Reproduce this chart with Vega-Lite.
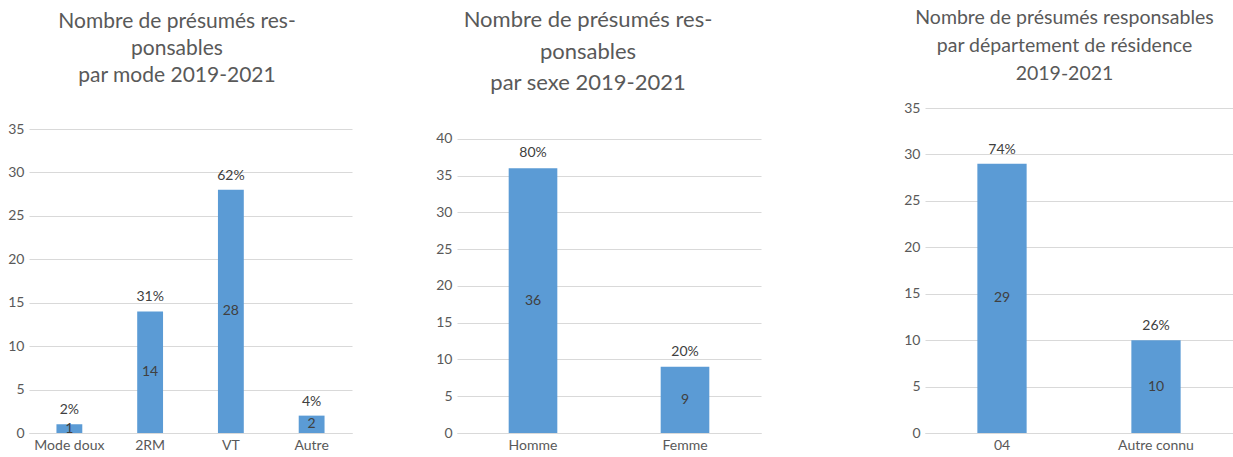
{
  "$schema": "https://vega.github.io/schema/vega-lite/v6.json",
  "padding": {"left": 0, "top": 7, "right": 0, "bottom": 0},
  "align": "each",
  "spacing": 0,
  "bounds": "full",
  "config": {
    "view": {"stroke": null},
    "font": "Lato, sans-serif",
    "axis": {
      "labelFont": "Lato, sans-serif",
      "labelFontSize": 14,
      "labelColor": "#595959",
      "domain": false,
      "ticks": false,
      "title": null,
      "gridColor": "#D9D9D9",
      "gridWidth": 1
    },
    "axisX": {"domain": true, "domainColor": "#D9D9D9", "labelAngle": 0, "labelPadding": 5, "grid": false},
    "axisY": {"labelPadding": 5},
    "title": {
      "font": "Lato, sans-serif",
      "color": "#595959",
      "fontWeight": "normal",
      "anchor": "middle",
      "frame": "group"
    },
    "text": {"font": "Lato, sans-serif", "fontSize": 14, "color": "#404040"}
  },
  "hconcat": [
    {
      "width": 323,
      "height": 325,
      "title": {"text": ["Nombre de présumés res-", "ponsables", "par mode 2019-2021"], "fontSize": 21, "lineHeight": 27, "offset": 22, "dx": -13.5},
      "data": {"values": [
        {"cat": "Mode doux", "n": 1, "pct": "2%"},
        {"cat": "2RM", "n": 14, "pct": "31%"},
        {"cat": "VT", "n": 28, "pct": "62%"},
        {"cat": "Autre", "n": 2, "pct": "4%"}
      ]},
      "encoding": {
        "x": {"field": "cat", "type": "nominal", "sort": null, "scale": {"paddingInner": 0.68, "paddingOuter": 0.34}, "axis": {"title": null}}
      },
      "layer": [
        {"mark": {"type": "bar", "color": "#5B9BD5"},
         "encoding": {"y": {"field": "n", "type": "quantitative", "scale": {"domain": [0, 37.42], "nice": false}, "axis": {"values": [0, 5, 10, 15, 20, 25, 30, 35], "minExtent": 29}}}},
        {"mark": {"type": "text", "baseline": "alphabetic", "dy": -10},
         "encoding": {"y": {"field": "n", "type": "quantitative", "scale": {"domain": [0, 37.42], "nice": false}, "axis": null}, "text": {"field": "pct"}}},
        {"mark": {"type": "text", "baseline": "middle"},
         "encoding": {"y": {"field": "n", "type": "quantitative", "scale": {"domain": [0, 74.84], "nice": false}, "axis": null}, "text": {"field": "n"}}}
      ],
      "resolve": {"scale": {"y": "independent"}}
    },
    {
      "width": 304,
      "height": 325,
      "title": {"text": ["Nombre de présumés res-", "ponsables", "par sexe 2019-2021"], "fontSize": 22, "lineHeight": 31.5, "offset": 13, "dx": -21},
      "data": {"values": [
        {"cat": "Homme", "n": 36, "pct": "80%"},
        {"cat": "Femme", "n": 9, "pct": "20%"}
      ]},
      "encoding": {
        "x": {"field": "cat", "type": "nominal", "sort": null, "scale": {"paddingInner": 0.68, "paddingOuter": 0.34}, "axis": {"title": null}}
      },
      "layer": [
        {"mark": {"type": "bar", "color": "#5B9BD5"},
         "encoding": {"y": {"field": "n", "type": "quantitative", "scale": {"domain": [0, 44.2], "nice": false}, "axis": {"values": [0, 5, 10, 15, 20, 25, 30, 35, 40], "minExtent": 105}}}},
        {"mark": {"type": "text", "baseline": "alphabetic", "dy": -11},
         "encoding": {"y": {"field": "n", "type": "quantitative", "scale": {"domain": [0, 44.2], "nice": false}, "axis": null}, "text": {"field": "pct"}}},
        {"mark": {"type": "text", "baseline": "middle"},
         "encoding": {"y": {"field": "n", "type": "quantitative", "scale": {"domain": [0, 88.4], "nice": false}, "axis": null}, "text": {"field": "n"}}}
      ],
      "resolve": {"scale": {"y": "independent"}}
    },
    {
      "width": 308,
      "height": 325,
      "title": {"text": ["Nombre de présumés responsables", "par département de résidence", "2019-2021"], "fontSize": 19.5, "lineHeight": 28, "offset": 17, "dx": -14.5},
      "data": {"values": [
        {"cat": "04", "n": 29, "pct": "74%"},
        {"cat": "Autre connu", "n": 10, "pct": "26%"}
      ]},
      "encoding": {
        "x": {"field": "cat", "type": "nominal", "sort": null, "scale": {"paddingInner": 0.68, "paddingOuter": 0.34}, "axis": {"title": null}}
      },
      "layer": [
        {"mark": {"type": "bar", "color": "#5B9BD5"},
         "encoding": {"y": {"field": "n", "type": "quantitative", "scale": {"domain": [0, 35], "nice": false}, "axis": {"values": [0, 5, 10, 15, 20, 25, 30, 35], "minExtent": 164}}}},
        {"mark": {"type": "text", "baseline": "alphabetic", "dy": -10},
         "encoding": {"y": {"field": "n", "type": "quantitative", "scale": {"domain": [0, 35], "nice": false}, "axis": null}, "text": {"field": "pct"}}},
        {"mark": {"type": "text", "baseline": "middle"},
         "encoding": {"y": {"field": "n", "type": "quantitative", "scale": {"domain": [0, 70], "nice": false}, "axis": null}, "text": {"field": "n"}}}
      ],
      "resolve": {"scale": {"y": "independent"}}
    }
  ]
}
